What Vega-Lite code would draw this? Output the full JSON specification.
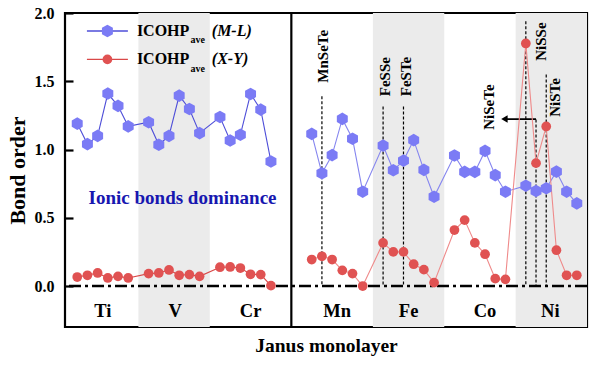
{
  "$schema": "https://vega.github.io/schema/vega-lite/v6.json",
  "width": 522,
  "height": 314,
  "autosize": {"type": "none"},
  "padding": {"left": 65, "top": 13, "right": 13, "bottom": 42},
  "config": {
    "view": {"stroke": "black", "strokeWidth": 2.2},
    "font": "Liberation Serif",
    "text": {"font": "Liberation Serif", "fontWeight": "bold", "color": "black"}
  },
  "data": {"values": [{}]},
  "datasets": {
    "pts": [
      {"x": 0, "ml": 1.19, "xy": 0.066, "p": "L"},
      {"x": 1, "ml": 1.04, "xy": 0.079, "p": "L"},
      {"x": 2, "ml": 1.10, "xy": 0.096, "p": "L"},
      {"x": 3, "ml": 1.41, "xy": 0.059, "p": "L"},
      {"x": 4, "ml": 1.32, "xy": 0.071, "p": "L"},
      {"x": 5, "ml": 1.17, "xy": 0.059, "p": "L"},
      {"x": 7, "ml": 1.20, "xy": 0.091, "p": "L"},
      {"x": 8, "ml": 1.035, "xy": 0.096, "p": "L"},
      {"x": 9, "ml": 1.10, "xy": 0.118, "p": "L"},
      {"x": 10, "ml": 1.395, "xy": 0.079, "p": "L"},
      {"x": 11, "ml": 1.297, "xy": 0.084, "p": "L"},
      {"x": 12, "ml": 1.12, "xy": 0.071, "p": "L"},
      {"x": 14, "ml": 1.238, "xy": 0.138, "p": "L"},
      {"x": 15, "ml": 1.066, "xy": 0.140, "p": "L"},
      {"x": 16, "ml": 1.108, "xy": 0.132, "p": "L"},
      {"x": 17, "ml": 1.407, "xy": 0.086, "p": "L"},
      {"x": 18, "ml": 1.292, "xy": 0.084, "p": "L"},
      {"x": 19, "ml": 0.912, "xy": 0.003, "p": "L"},
      {"x": 23, "ml": 1.115, "xy": 0.194, "p": "R"},
      {"x": 24, "ml": 0.826, "xy": 0.218, "p": "R"},
      {"x": 25, "ml": 0.959, "xy": 0.194, "p": "R"},
      {"x": 26, "ml": 1.224, "xy": 0.115, "p": "R"},
      {"x": 27, "ml": 1.079, "xy": 0.091, "p": "R"},
      {"x": 28, "ml": 0.691, "xy": 0.0, "p": "R"},
      {"x": 30, "ml": 1.029, "xy": 0.316, "p": "R"},
      {"x": 31, "ml": 0.848, "xy": 0.25, "p": "R"},
      {"x": 32, "ml": 0.919, "xy": 0.25, "p": "R"},
      {"x": 33, "ml": 1.069, "xy": 0.16, "p": "R"},
      {"x": 34, "ml": 0.851, "xy": 0.12, "p": "R"},
      {"x": 35, "ml": 0.654, "xy": 0.025, "p": "R"},
      {"x": 37, "ml": 0.956, "xy": 0.41, "p": "R"},
      {"x": 38, "ml": 0.836, "xy": 0.483, "p": "R"},
      {"x": 39, "ml": 0.836, "xy": 0.316, "p": "R"},
      {"x": 40, "ml": 0.99, "xy": 0.233, "p": "R"},
      {"x": 41, "ml": 0.812, "xy": 0.054, "p": "R"},
      {"x": 42, "ml": 0.691, "xy": 0.049, "p": "R"},
      {"x": 44, "ml": 0.735, "xy": 1.777, "p": "R"},
      {"x": 45, "ml": 0.696, "xy": 0.9, "p": "R"},
      {"x": 46, "ml": 0.716, "xy": 1.169, "p": "R"},
      {"x": 47, "ml": 0.838, "xy": 0.2625, "p": "R"},
      {"x": 48, "ml": 0.691, "xy": 0.079, "p": "R"},
      {"x": 49, "ml": 0.606, "xy": 0.079, "p": "R"}
    ],
    "bands": [
      {"x0": 6, "x1": 13},
      {"x0": 29, "x1": 36},
      {"x0": 43, "x1": 50}
    ],
    "vl": [
      {"x": 24, "top": 1.39},
      {"x": 30, "top": 1.316},
      {"x": 32, "top": 1.316},
      {"x": 44, "top": 1.94},
      {"x": 45, "top": 1.22},
      {"x": 46, "top": 1.55}
    ],
    "ann": [
      {"t": "MnSeTe", "x": 24.1, "y": 1.49},
      {"t": "FeSSe", "x": 30.2, "y": 1.39},
      {"t": "FeSTe", "x": 32.2, "y": 1.39},
      {"t": "NiSSe", "x": 45.5, "y": 1.65},
      {"t": "NiSTe", "x": 46.9, "y": 1.24},
      {"t": "NiSeTe", "x": 40.4, "y": 1.145}
    ],
    "grp": [
      {"t": "Ti", "x": 2.5},
      {"t": "V", "x": 9.6},
      {"t": "Cr", "x": 17},
      {"t": "Mn", "x": 25.5},
      {"t": "Fe", "x": 32.5},
      {"t": "Co", "x": 40},
      {"t": "Ni", "x": 46.4}
    ]
  },
  "layer": [
    {
      "data": {"name": "bands"},
      "mark": {"type": "rect", "color": "#ebebeb"},
      "encoding": {
        "x": {"field": "x0", "type": "quantitative", "scale": {"domain": [-1.2, 50], "nice": false, "zero": false},
          "axis": {"title": "Janus monolayer", "labels": false, "ticks": false, "domain": false, "grid": false,
            "titleFont": "Liberation Serif", "titleFontSize": 19.5, "titleFontWeight": "bold", "titleColor": "black", "titlePadding": 9}},
        "x2": {"field": "x1"}
      }
    },
    {
      "mark": {"type": "rule", "color": "black", "strokeWidth": 2.5, "strokeDash": [12, 4, 3, 4]},
      "encoding": {
        "y": {"datum": 0, "type": "quantitative", "scale": {"domain": [-0.3, 2.0], "nice": false},
          "axis": {"title": "Bond order", "values": [0, 0.5, 1, 1.5, 2], "format": ".1f", "domain": false, "grid": false,
            "tickSize": -8, "tickWidth": 2.2, "tickColor": "black",
            "labelFont": "Liberation Serif", "labelFontWeight": "bold", "labelFontSize": 16, "labelColor": "black", "labelPadding": 19,
            "titleFont": "Liberation Serif", "titleFontSize": 22, "titleFontWeight": "bold", "titleColor": "black", "titlePadding": 5}}
      }
    },
    {
      "mark": {"type": "rule", "color": "black", "strokeWidth": 2.2},
      "encoding": {"x": {"datum": 21, "type": "quantitative"}}
    },
    {
      "data": {"name": "vl"},
      "mark": {"type": "rule", "color": "black", "strokeWidth": 1.2, "strokeDash": [3, 2]},
      "encoding": {
        "x": {"field": "x", "type": "quantitative"},
        "y": {"field": "top", "type": "quantitative"},
        "y2": {"datum": 0}
      }
    },
    {
      "mark": {"type": "rule", "color": "black", "strokeWidth": 1.6},
      "encoding": {
        "x": {"datum": 45, "type": "quantitative"},
        "x2": {"datum": 41.8},
        "y": {"datum": 1.223, "type": "quantitative"}
      }
    },
    {
      "mark": {"type": "point", "shape": "triangle-left", "filled": true, "color": "black", "size": 55, "opacity": 1},
      "encoding": {
        "x": {"datum": 41.9, "type": "quantitative"},
        "y": {"datum": 1.223, "type": "quantitative"}
      }
    },
    {
      "data": {"name": "pts"},
      "mark": {"type": "line", "strokeWidth": 1.1},
      "encoding": {
        "x": {"field": "x", "type": "quantitative"},
        "y": {"field": "ml", "type": "quantitative"},
        "color": {"field": "p", "type": "nominal", "scale": {"domain": ["L", "R", "L2", "R2"], "range": ["#4e4ed8", "#8585ef", "#d94848", "#ef8a8a"]}, "legend": null}
      }
    },
    {
      "data": {"name": "pts"},
      "transform": [{"calculate": "datum.p + '2'", "as": "p2"}],
      "mark": {"type": "line", "strokeWidth": 1.1},
      "encoding": {
        "x": {"field": "x", "type": "quantitative"},
        "y": {"field": "xy", "type": "quantitative"},
        "color": {"field": "p2", "type": "nominal", "legend": null}
      }
    },
    {
      "data": {"name": "pts"},
      "mark": {"type": "point", "shape": "M0,-1L0.866,-0.5L0.866,0.5L0,1L-0.866,0.5L-0.866,-0.5Z", "filled": true, "color": "#7b7bf5", "size": 160, "opacity": 1},
      "encoding": {
        "x": {"field": "x", "type": "quantitative"},
        "y": {"field": "ml", "type": "quantitative"}
      }
    },
    {
      "data": {"name": "pts"},
      "mark": {"type": "circle", "color": "#e05252", "size": 95, "opacity": 1},
      "encoding": {
        "x": {"field": "x", "type": "quantitative"},
        "y": {"field": "xy", "type": "quantitative"}
      }
    },
    {
      "data": {"name": "ann"},
      "mark": {"type": "text", "angle": 270, "align": "left", "baseline": "middle", "fontSize": 15},
      "encoding": {
        "x": {"field": "x", "type": "quantitative"},
        "y": {"field": "y", "type": "quantitative"},
        "text": {"field": "t"}
      }
    },
    {
      "data": {"name": "grp"},
      "mark": {"type": "text", "align": "center", "baseline": "middle", "fontSize": 18.5},
      "encoding": {
        "x": {"field": "x", "type": "quantitative"},
        "y": {"datum": -0.18, "type": "quantitative"},
        "text": {"field": "t"}
      }
    },
    {
      "mark": {"type": "text", "align": "center", "baseline": "middle", "fontSize": 19, "color": "#1717b0"},
      "encoding": {
        "x": {"datum": 10.33, "type": "quantitative"},
        "y": {"datum": 0.643, "type": "quantitative"},
        "text": {"value": "Ionic bonds dominance"}
      }
    },
    {
      "mark": {"type": "rule", "color": "#4e4ed8", "strokeWidth": 1.3},
      "encoding": {
        "x": {"datum": 0.95, "type": "quantitative"},
        "x2": {"datum": 4.97},
        "y": {"datum": 1.868, "type": "quantitative"}
      }
    },
    {
      "mark": {"type": "rule", "color": "#d94848", "strokeWidth": 1.3},
      "encoding": {
        "x": {"datum": 0.95, "type": "quantitative"},
        "x2": {"datum": 4.97},
        "y": {"datum": 1.66, "type": "quantitative"}
      }
    },
    {
      "mark": {"type": "point", "shape": "M0,-1L0.866,-0.5L0.866,0.5L0,1L-0.866,0.5L-0.866,-0.5Z", "filled": true, "color": "#7b7bf5", "size": 160, "opacity": 1},
      "encoding": {
        "x": {"datum": 2.96, "type": "quantitative"},
        "y": {"datum": 1.868, "type": "quantitative"}
      }
    },
    {
      "mark": {"type": "circle", "color": "#e05252", "size": 95, "opacity": 1},
      "encoding": {
        "x": {"datum": 2.96, "type": "quantitative"},
        "y": {"datum": 1.66, "type": "quantitative"}
      }
    },
    {
      "mark": {"type": "text", "align": "left", "baseline": "middle", "fontSize": 16},
      "encoding": {
        "x": {"datum": 5.85, "type": "quantitative"},
        "y": {"datum": 1.868, "type": "quantitative"},
        "text": {"value": "ICOHP"}
      }
    },
    {
      "mark": {"type": "text", "align": "left", "baseline": "middle", "fontSize": 10},
      "encoding": {
        "x": {"datum": 11.1, "type": "quantitative"},
        "y": {"datum": 1.80, "type": "quantitative"},
        "text": {"value": "ave"}
      }
    },
    {
      "mark": {"type": "text", "align": "left", "baseline": "middle", "fontSize": 16, "fontStyle": "italic"},
      "encoding": {
        "x": {"datum": 13.2, "type": "quantitative"},
        "y": {"datum": 1.868, "type": "quantitative"},
        "text": {"value": "(M-L)"}
      }
    },
    {
      "mark": {"type": "text", "align": "left", "baseline": "middle", "fontSize": 16},
      "encoding": {
        "x": {"datum": 5.85, "type": "quantitative"},
        "y": {"datum": 1.66, "type": "quantitative"},
        "text": {"value": "ICOHP"}
      }
    },
    {
      "mark": {"type": "text", "align": "left", "baseline": "middle", "fontSize": 10},
      "encoding": {
        "x": {"datum": 11.1, "type": "quantitative"},
        "y": {"datum": 1.593, "type": "quantitative"},
        "text": {"value": "ave"}
      }
    },
    {
      "mark": {"type": "text", "align": "left", "baseline": "middle", "fontSize": 16, "fontStyle": "italic"},
      "encoding": {
        "x": {"datum": 13.2, "type": "quantitative"},
        "y": {"datum": 1.66, "type": "quantitative"},
        "text": {"value": "(X-Y)"}
      }
    }
  ]
}
